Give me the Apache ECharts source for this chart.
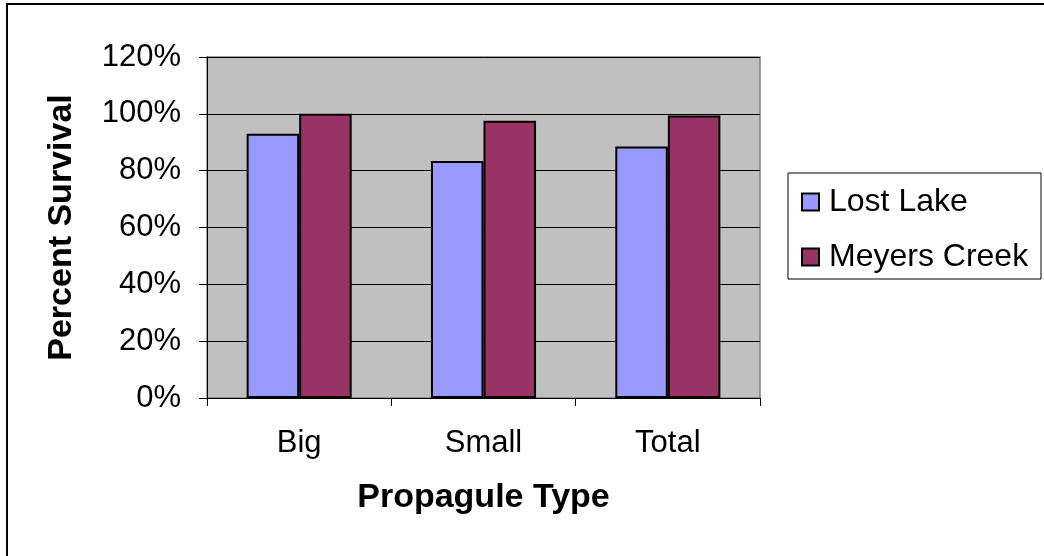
<!DOCTYPE html>
<html>
<head>
<meta charset="utf-8">
<script src="https://cdn.jsdelivr.net/npm/echarts@6/dist/echarts.min.js"></script>
<style>
  html, body { margin: 0; padding: 0; background: #fff; }
  #chart { width: 1044px; height: 556px; }
</style>
</head>
<body>
<div id="chart"></div>
<script>
// donnees
var categories = ['Big', 'Small', 'Total'];
var lostLake = [93, 83.4, 88.5];
var meyersCreek = [100, 97.6, 99.4];
var yTicks = [0, 20, 40, 60, 80, 100, 120];

var fontFamily = "'Liberation Sans', Arial, sans-serif";
var barBorder = { borderColor: '#000', borderWidth: 2 };

var chart = echarts.init(document.getElementById('chart'), null, {renderer: 'canvas'});
var option = {
  animation: false,
  textStyle: { fontFamily: fontFamily, color: '#000' },
  grid: {
    left: 207, right: 284, top: 57, bottom: 158,
    show: true,
    backgroundColor: '#c0c0c0',
    borderColor: '#808080',
    borderWidth: 1.5
  },
  legend: {
    orient: 'vertical',
    left: 801,
    top: 186,
    padding: 0,
    itemGap: 23,
    itemWidth: 17,
    itemHeight: 17,
    icon: 'rect',
    textStyle: { fontFamily: fontFamily, fontSize: 32, color: '#000', padding: [0, 0, 0, 5] },
    data: ['Lost Lake', 'Meyers Creek']
  },
  xAxis: {
    type: 'category',
    data: categories,
    name: 'Propagule Type',
    nameLocation: 'middle',
    nameGap: 83,
    nameTextStyle: { fontFamily: fontFamily, fontSize: 34, fontWeight: 'bold', color: '#000' },
    axisLine: { show: true, lineStyle: { color: '#000', width: 1 } },
    axisTick: { show: true, length: 8, lineStyle: { color: '#000' } },
    axisLabel: { fontFamily: fontFamily, fontSize: 31, color: '#000', margin: 30 }
  },
  yAxis: {
    type: 'value',
    min: yTicks[0],
    max: yTicks[yTicks.length - 1],
    interval: 20,
    name: 'Percent Survival',
    nameLocation: 'middle',
    nameRotate: 90,
    nameGap: 128,
    nameTextStyle: { fontFamily: fontFamily, fontSize: 34, fontWeight: 'bold', color: '#000' },
    axisLine: { show: true, lineStyle: { color: '#000', width: 1 } },
    axisTick: { show: true, length: 8, lineStyle: { color: '#000' } },
    axisLabel: { fontFamily: fontFamily, fontSize: 31, color: '#000', margin: 26, formatter: '{value}%' },
    splitLine: { show: true, lineStyle: { color: '#000', width: 1 } }
  },
  series: [
    {
      name: 'Lost Lake',
      type: 'bar',
      data: lostLake,
      barGap: '0%',
      barCategoryGap: '43%',
      itemStyle: Object.assign({ color: '#9999ff' }, barBorder)
    },
    {
      name: 'Meyers Creek',
      type: 'bar',
      data: meyersCreek,
      barGap: '0%',
      barCategoryGap: '43%',
      itemStyle: Object.assign({ color: '#993366' }, barBorder)
    }
  ],
  graphic: [
    // cadre de la legende
    {
      type: 'rect',
      shape: { x: 788, y: 173, width: 253, height: 106 },
      style: { fill: 'none', stroke: '#000', lineWidth: 1 },
      z: 0
    },
    // bord du graphique (haut et gauche seulement)
    {
      type: 'polyline',
      shape: { points: [[7, 556], [7, 4], [1044, 4]] },
      style: { fill: 'none', stroke: '#000', lineWidth: 2 }
    }
  ]
};

chart.setOption(option);
</script>
</body>
</html>
